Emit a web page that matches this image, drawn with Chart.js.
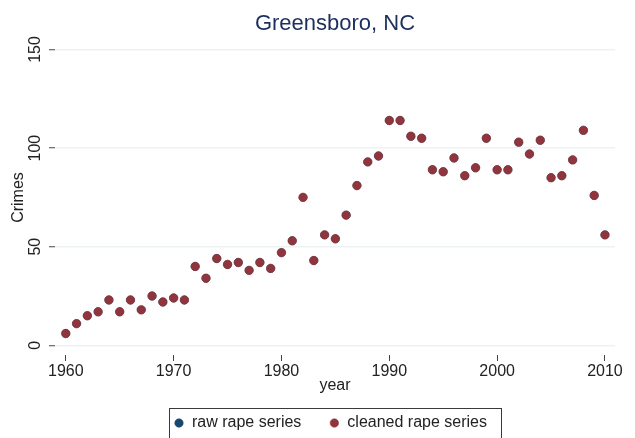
<!DOCTYPE html>
<html>
<head>
<meta charset="utf-8">
<script src="https://cdn.jsdelivr.net/npm/chart.js@4/dist/chart.umd.min.js"></script>
<style>
html,body{margin:0;padding:0;background:#ffffff;}
#wrap{width:635px;height:438px;}
</style>
</head>
<body>
<div id="wrap"><canvas id="c" width="635" height="438"></canvas></div>
<script>
const years = [1960,1961,1962,1963,1964,1965,1966,1967,1968,1969,
               1970,1971,1972,1973,1974,1975,1976,1977,1978,1979,
               1980,1981,1982,1983,1984,1985,1986,1987,1988,1989,
               1990,1991,1992,1993,1994,1995,1996,1997,1998,1999,
               2000,2001,2002,2003,2004,2005,2006,2007,2008,2009,2010];
const cleanedRape = [6,11,15,17,23,17,23,18,25,22,
                     24,23,40,34,44,41,42,38,42,39,
                     47,53,75,43,56,54,66,81,93,96,
                     114,114,106,105,89,88,95,86,90,105,
                     89,89,103,97,104,85,86,94,109,76,56];
const rawRape = [6,11,15,17,23,17,23,18,25,22,
                 24,23,40,34,44,41,42,38,42,39,
                 47,53,75,43,56,54,66,81,93,96,
                 114,114,106,105,89,88,95,86,90,105,
                 89,89,103,97,104,85,86,94,109,76,56];
const xTicks = [1960,1970,1980,1990,2000,2010];
const yTicks = [0,50,100,150];
const titleText = 'Greensboro, NC';
const xTitle = 'year';
const yTitle = 'Crimes';
const rawLabel = 'raw rape series';
const cleanedLabel = 'cleaned rape series';

const FONT = "'Liberation Sans', Arial, Helvetica, sans-serif";
const toPts = (vals) => years.map((yr, i) => ({x: yr, y: vals[i]}));
const LEGEND_SHIFT = -4.5;

const legendBorder = {
  id: 'legendBorder',
  afterUpdate(chart) {
    const lg = chart.legend;
    if (!lg) return;
    lg.left += LEGEND_SHIFT;
    lg.right += LEGEND_SHIFT;
    (lg.legendHitBoxes || []).forEach(h => { h.left += LEGEND_SHIFT; });
  },
  afterDraw(chart) {
    const lg = chart.legend;
    if (!lg || !lg.legendHitBoxes || !lg.legendHitBoxes.length) return;
    const hb = lg.legendHitBoxes;
    const left = Math.min(...hb.map(h => h.left)) - 5;
    const right = Math.max(...hb.map(h => h.left + h.width)) + 14;
    const top = hb[0].top - 7.5;
    const ctx = chart.ctx;
    ctx.save();
    ctx.strokeStyle = '#3a3a3a';
    ctx.lineWidth = 1;
    ctx.strokeRect(Math.round(left) + 0.5, Math.round(top) + 0.5, Math.round(right - left), 40);
    ctx.restore();
  }
};

new Chart(document.getElementById('c'), {
  type: 'scatter',
  data: {
    datasets: [
      {
        label: cleanedLabel,
        data: toPts(cleanedRape),
        backgroundColor: '#90353b',
        borderColor: '#90353b',
        pointRadius: 4.2,
        pointBorderWidth: 0.5,
        pointHoverRadius: 4.2
      },
      {
        label: rawLabel,
        data: toPts(rawRape),
        backgroundColor: '#1a476f',
        borderColor: '#1a476f',
        pointRadius: 4.2,
        pointBorderWidth: 0.5,
        pointHoverRadius: 4.2
      }
    ]
  },
  options: {
    responsive: false,
    animation: false,
    devicePixelRatio: 1,
    layout: { padding: { left: 0, right: 20, top: 0, bottom: 0 } },
    scales: {
      x: {
        type: 'linear',
        min: 1959.0,
        max: 2010.93,
        afterBuildTicks: (s) => { s.ticks = xTicks.map(v => ({value: v})); },
        afterFit: (s) => { s.height = 32; },
        border: { display: false },
        grid: { drawOnChartArea: false, drawTicks: true, tickLength: 6, tickColor: '#444444', tickWidth: 1 },
        ticks: { font: { family: FONT, size: 16 }, color: '#222222', padding: 1, maxRotation: 0, minRotation: 0, autoSkip: false,
                 callback: (v) => String(v) },
        title: { display: true, text: xTitle, font: { family: FONT, size: 16 }, color: '#222222', padding: { top: 0, bottom: -8.6 } }
      },
      y: {
        type: 'linear',
        min: -4.9,
        max: 154.8,
        afterBuildTicks: (s) => { s.ticks = yTicks.map(v => ({value: v})); },
        afterFit: (s) => { s.width = 55; },
        border: { display: false },
        grid: { color: '#edf3f5', lineWidth: 1.5, drawTicks: true, tickLength: 6, tickColor: '#444444', tickWidth: 1 },
        ticks: { font: { family: FONT, size: 16 }, color: '#222222', padding: 0, minRotation: 90, maxRotation: 90, crossAlign: 'center',
                 callback: (v) => String(v) },
        title: { display: true, text: yTitle, font: { family: FONT, size: 16 }, color: '#222222', padding: { top: 9.4, bottom: 0 } }
      }
    },
    plugins: {
      title: {
        display: true,
        text: titleText,
        fullSize: false,
        color: '#1c2f5e',
        font: { family: FONT, size: 22, weight: 'normal' },
        padding: { top: 10.8, bottom: 2.8 }
      },
      legend: {
        position: 'bottom',
        fullSize: false,
        reverse: true,
        maxHeight: 51,
        labels: {
          usePointStyle: true,
          pointStyle: 'circle',
          boxWidth: 10,
          boxHeight: 6,
          padding: 28,
          color: '#222222',
          font: { family: FONT, size: 16 }
        }
      },
      tooltip: { enabled: false }
    }
  },
  plugins: [legendBorder]
});
</script>
</body>
</html>
